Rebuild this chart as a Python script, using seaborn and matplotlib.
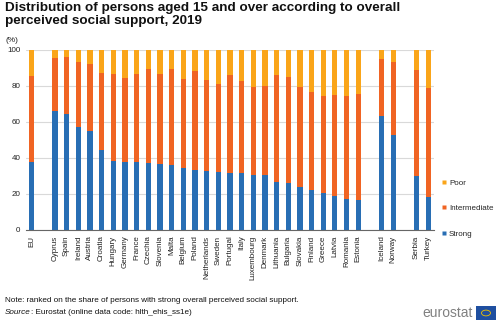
import matplotlib
matplotlib.use("Agg")
import matplotlib.pyplot as plt
import seaborn as sns
import pandas as pd
import numpy as np
from matplotlib.patches import Rectangle, Circle
from matplotlib.lines import Line2D

sns.set_style("white")
plt.rcParams['font.family'] = ['Liberation Sans', 'DejaVu Sans']

countries = ["EU", "", "Cyprus", "Spain", "Ireland", "Austria", "Croatia", "Hungary",
             "Germany", "France", "Czechia", "Slovenia", "Malta", "Belgium", "Poland",
             "Netherlands", "Sweden", "Portugal", "Italy", "Luxembourg", "Denmark",
             "Lithuania", "Bulgaria", "Slovakia", "Finland", "Greece", "Latvia",
             "Romania", "Estonia", "", "Iceland", "Norway", "", "Serbia", "Turkey"]
strong = [37.6, np.nan, 66.1, 64.6, 57.2, 55.0, 44.6, 38.3, 38.0, 38.0, 37.2, 36.9,
          36.0, 34.3, 33.1, 32.8, 32.0, 31.5, 31.5, 30.6, 30.4, 26.5, 25.9, 23.9,
          22.0, 20.7, 18.7, 17.2, 16.5, np.nan, 63.3, 53.0, np.nan, 30.2, 18.1]
strong_plus_intermediate = [85.6, np.nan, 95.4, 96.3, 93.5, 92.0, 87.4, 86.9, 84.4,
                            86.7, 89.3, 86.7, 89.3, 83.7, 88.3, 83.3, 81.3, 86.1, 83.0,
                            79.4, 80.0, 86.1, 85.0, 79.4, 76.7, 74.4, 75.0, 74.4, 75.6,
                            np.nan, 95.0, 93.3, np.nan, 88.7, 79.1]
total = [100 if not np.isnan(s) else np.nan for s in strong]

slots = [f"slot{i}" for i in range(len(countries))]
df = pd.DataFrame({"slot": slots, "strong": strong,
                   "inter": strong_plus_intermediate, "total": total})

c_poor = "#FAA519"
c_inter = "#F06423"
c_strong = "#286EB4"

fig = plt.figure(figsize=(5.0, 3.22), dpi=100)
ax = fig.add_axes([25.8/500, 1 - 230/322, (434 - 25.8)/500, 180/322])

w = 0.45
sns.barplot(data=df, x="slot", y="total", order=slots, color=c_poor, width=w,
            ax=ax, saturation=1, edgecolor="none")
sns.barplot(data=df, x="slot", y="inter", order=slots, color=c_inter, width=w,
            ax=ax, saturation=1, edgecolor="none")
sns.barplot(data=df, x="slot", y="strong", order=slots, color=c_strong, width=w,
            ax=ax, saturation=1, edgecolor="none")

ax.set_xlim(-0.5, len(slots) - 0.5)
ax.set_ylim(0, 100)
ax.set_yticks([0, 20, 40, 60, 80, 100])
ax.yaxis.grid(True, color="#d9d9d9", linewidth=0.8)
ax.set_axisbelow(True)
ax.set_xlabel("")
ax.set_ylabel("")
for s in ["top", "right", "left"]:
    ax.spines[s].set_visible(False)
ax.spines["bottom"].set_color("#666666")
ax.spines["bottom"].set_linewidth(0.8)

ax.set_xticks(range(len(slots)))
ax.set_xticklabels(countries, rotation=90, fontsize=5.8, color="#222222")
ax.set_xticks(np.arange(-0.5, len(slots), 1), minor=True)
ax.tick_params(axis="x", which="major", length=0, pad=4)
ax.tick_params(axis="x", which="minor", length=4, color="#666666", width=0.8,
               direction="out")
ax.tick_params(axis="y", length=0, labelsize=5.8, labelcolor="#222222", pad=4)

# Legend
handles = [Line2D([0], [0], marker="s", color="none", markerfacecolor=c,
                  markeredgecolor="none", markersize=3.5)
           for c in [c_poor, c_inter, c_strong]]
fig.legend(handles, ["Poor", "Intermediate", "Strong"], loc="upper left",
           bbox_to_anchor=(437/500, 1 - 176/322), frameon=False, fontsize=5.8,
           handletextpad=0.1, labelspacing=2.2, handlelength=1.0, borderaxespad=0)

# Titles
fig.text(5/500, 1 - 2/322, "Distribution of persons aged 15 and over according to overall\nperceived social support, 2019",
         fontsize=9.7, fontweight="bold", va="top", ha="left", linespacing=1.1,
         color="#111111")
fig.text(5/500, 1 - 40/322, "(%)", fontsize=6, va="center", ha="left", color="#222222")

# Footer
fig.text(5/500, 1 - 301/322,
         "Note: ranked on the share of persons with strong overall perceived social support.",
         fontsize=5.85, va="center", ha="left", color="#111111")
src = fig.text(5/500, 1 - 313/322, "Source", fontsize=5.85, style="italic",
               va="center", ha="left", color="#111111")
fig.canvas.draw()
bb = src.get_window_extent(renderer=fig.canvas.get_renderer())
fig.text(bb.x1/500, 1 - 313/322, ": Eurostat (online data code: hlth_ehis_ss1e)",
         fontsize=5.85, va="center", ha="left", color="#111111")

fig.text(473/500, 1 - 313/322, "eurostat", fontsize=10, color="#808080",
         va="center", ha="right")
fig.patches.append(Rectangle((476/500, 1 - 320/322), 20/500, 14/322,
                             transform=fig.transFigure, facecolor="#1f4fa0",
                             edgecolor="none"))
fig.patches.append(Circle((486/500, 1 - 313/322), 0.009,
                          transform=fig.transFigure,
                          facecolor="none", edgecolor="#f2c200",
                          linewidth=0.6))

fig.savefig("out.png", dpi=100)
